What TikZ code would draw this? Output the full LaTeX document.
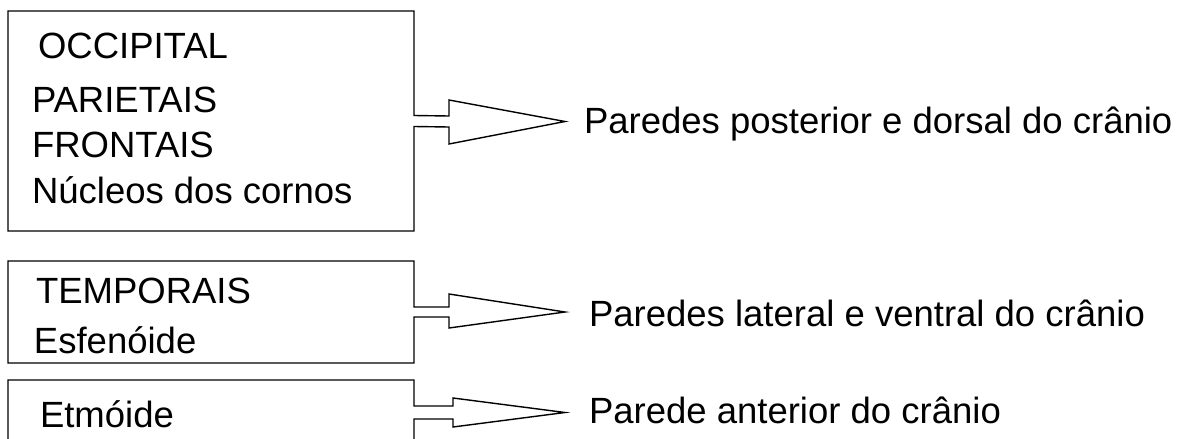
\documentclass[tikz,border=0pt]{standalone}
\usepackage{fontspec}
\setmainfont{Liberation Sans}
\usetikzlibrary{calc}
\begin{document}
\begin{tikzpicture}[x=1pt,y=-1pt,
  txt/.style={inner sep=0pt,outer sep=0pt,anchor=base west,font=\fontsize{36.5}{42}\selectfont},
  rtxt/.style={inner sep=0pt,outer sep=0pt,anchor=base west,font=\fontsize{36.5}{42}\selectfont},
  boxarea/.style={inner sep=0pt,outer sep=0pt,draw=none,minimum width=406pt},
  outline/.style={draw=black,line width=1.4pt,line join=miter}]
\clip (0,0) rectangle (1187,439);
\fill[white] (0,0) rectangle (1187,439);
% box areas
\node[boxarea,minimum height=220pt] (b1) at (211,121) {};
\node[boxarea,minimum height=102pt] (b2) at (211,312) {};
\node[boxarea,minimum height=65pt] (b3) at (211,412.5) {};
% left texts
\node[txt] (t1) at (38,58) {OCCIPITAL};
\node[txt] (t2) at (32,112) {PARIETAIS};
\node[txt] (t3) at (32,157) {FRONTAIS};
\node[txt] (t4) at (32,203) {Núcleos dos cornos};
\node[txt] (t5) at (36,303) {TEMPORAIS};
\node[txt] (t6) at (34,353) {Esfenóide};
\node[txt] (t7) at (40,427) {Etmóide};
% right texts
\node[rtxt] (r1) at (584,133) {Paredes posterior e dorsal do crânio};
\node[rtxt] (r2) at (589,326) {Paredes lateral e ventral do crânio};
\node[rtxt] (r3) at (589,423) {Parede anterior do crânio};
% arrow tips
\coordinate (p1) at (565,121.5);
\coordinate (p2) at (565,312);
\coordinate (p3) at (565,412.5);
% box 1 with arrow
\draw[outline] ($(b1.east)+(0,-5.5)$) -- (b1.north east) -- (b1.north west) -- (b1.south west) -- (b1.south east)
  -- ($(b1.east)+(0,5.5)$) -- (449,127) -- (449,144) -- (p1) -- (449,100) -- (449,116) -- cycle;
% box 2 with arrow
\draw[outline] ($(b2.east)+(0,-5)$) -- (b2.north east) -- (b2.north west) -- (b2.south west) -- (b2.south east)
  -- ($(b2.east)+(0,5)$) -- (449,317) -- (449,328) -- (p2) -- (449,294) -- (449,307) -- cycle;
% box 3 with arrow
\draw[outline] ($(b3.east)+(0,-6.5)$) -- (b3.north east) -- (b3.north west) -- (b3.south west) -- (b3.south east)
  -- ($(b3.east)+(0,6.5)$) -- (453,419) -- (453,427) -- (p3) -- (453,398) -- (453,406) -- cycle;
\end{tikzpicture}
\end{document}
